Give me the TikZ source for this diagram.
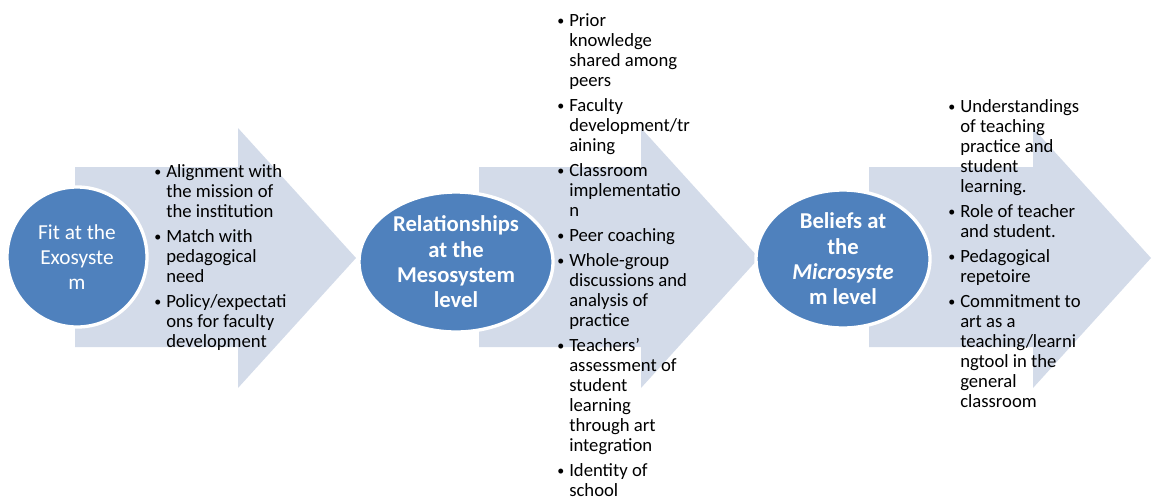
\documentclass[tikz,border=0pt]{standalone}
\usepackage{fontspec}
\setmainfont{Carlito}
\usepackage{graphicx}
\usetikzlibrary{shapes.geometric}

\definecolor{stageblue}{RGB}{79,129,189}
\definecolor{chevronfill}{RGB}{211,219,233}

\newcommand{\itm}{\makebox[9pt][l]{\raisebox{0.1ex}{\scalebox{0.75}{\textbullet}}}}

\begin{document}
\begin{tikzpicture}[x=0.75pt, y=-0.75pt,
    stage/.style={ellipse, fill=stageblue, draw=white, line width=2.5pt, text=white, inner sep=-3pt, align=center, font=\fontsize{17}{19}\selectfont\bfseries},
    points/.style={anchor=base west, inner sep=0pt, font=\fontsize{14}{15}\selectfont}
  ]
    \useasboundingbox (0,0) rectangle (1152,497);
    \foreach \a/\b in {75/238, 479/641, 869/1033}
      \fill[chevronfill] (\a,167) -- (\b,167) -- (\b,128) -- (\b+118,258) -- (\b,388) -- (\b,347) -- (\a,347) -- cycle;
    \node[stage, minimum width=105pt, minimum height=105pt, font=\fontsize{16}{19}\selectfont] (exo) at (77,257) {Fit at the\\Exosyste\\m};
    \node[stage, minimum width=145.5pt, minimum height=105pt] (meso) at (456,262) {Relationships\\at the\\Mesosystem\\level};
    \node[stage, minimum width=130.5pt, minimum height=103.5pt] (micro) at (843,259) {Beliefs at\\the\\\textit{Microsyste}\\m level};
    \node[points] (exoList) at (154,177) {\begin{tabular}[t]{@{}l@{}l@{}}
      \itm & Alignment with\\ & the mission of\\ & the institution\\[3.75pt]
      \itm & Match with\\ & pedagogical\\ & need\\[3.75pt]
      \itm & Policy/expectati\\ & ons for faculty\\ & development
    \end{tabular}};
    \node[points] (mesoList) at (557,26) {\begin{tabular}[t]{@{}l@{}l@{}}
      \itm & Prior\\ & knowledge\\ & shared among\\ & peers\\[3.75pt]
      \itm & Faculty\\ & development/tr\\ & aining\\[3.75pt]
      \itm & Classroom\\ & implementatio\\ & n\\[3.75pt]
      \itm & Peer coaching\\[3.75pt]
      \itm & Whole-group\\ & discussions and\\ & analysis of\\ & practice\\[3.75pt]
      \itm & Teachers'\\ & assessment of\\ & student\\ & learning\\ & through art\\ & integration\\[3.75pt]
      \itm & Identity of\\ & school
    \end{tabular}};
    \node[points] (microList) at (948,112) {\begin{tabular}[t]{@{}l@{}l@{}}
      \itm & Understandings\\ & of teaching\\ & practice and\\ & student\\ & learning.\\[3.75pt]
      \itm & Role of teacher\\ & and student.\\[3.75pt]
      \itm & Pedagogical\\ & repetoire\\[3.75pt]
      \itm & Commitment to\\ & art as a\\ & teaching/learni\\ & ngtool in the\\ & general\\ & classroom
    \end{tabular}};
  \end{tikzpicture}
\end{document}
